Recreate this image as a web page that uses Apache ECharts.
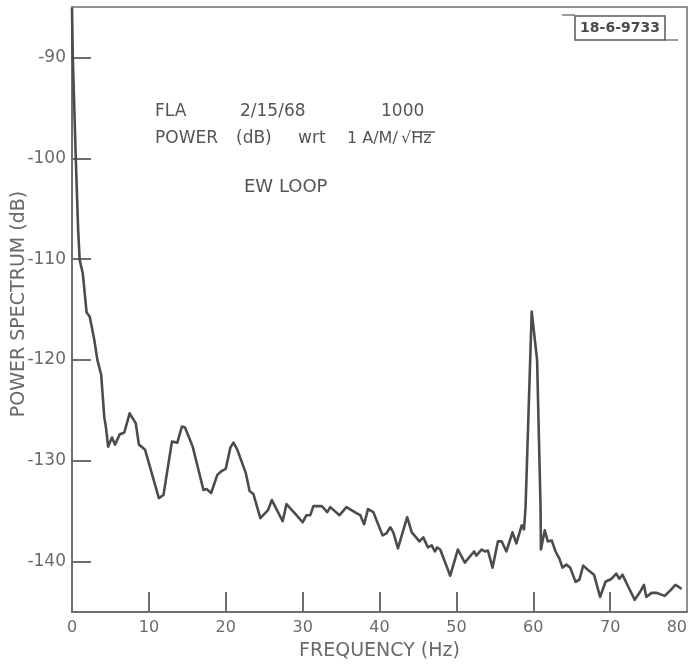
<!DOCTYPE html>
<html>
<head>
<meta charset="utf-8">
<script src="https://cdn.jsdelivr.net/npm/echarts@6/dist/echarts.min.js"></script>
<style>
html,body{margin:0;padding:0;background:#fff;}
#c{width:689px;height:664px;}
</style>
</head>
<body>
<div id="c"></div>
<script>
// Frequency (Hz) of each traced point
var freqs = [0, 0.1, 0.5, 0.8, 1.0, 1.4, 1.9, 2.3, 2.9, 3.3, 3.8, 4.2, 4.4, 4.7, 5.2, 5.6, 6.2, 6.8, 7.5, 8.3, 8.7, 9.2, 9.5,
  11.3, 11.9, 13.0, 13.7, 14.3, 14.7, 15.7, 17.1, 17.5, 18.1, 18.9, 19.5, 20.0, 20.6, 21.0, 21.5, 22.6, 23.1, 23.6,
  24.5, 25.5, 26.0, 27.4, 27.9, 29.2, 30.0, 30.5, 31.0, 31.4, 32.5, 33.2, 33.6, 34.8, 35.7, 37.0, 37.5, 38.0, 38.5,
  39.2, 40.4, 40.9, 41.4, 41.8, 42.4, 43.6, 44.2, 45.2, 45.7, 46.3, 46.8, 47.2, 47.5, 47.9, 49.2, 50.2, 51.1, 52.3,
  52.6, 53.3, 53.7, 54.1, 54.7, 55.4, 55.9, 56.5, 57.3, 57.8, 58.5, 58.8, 59.0, 59.8, 60.5, 60.95, 61.0, 61.5, 61.9,
  62.4, 62.9, 63.4, 63.8, 64.3, 64.8, 65.5, 66.0, 66.5, 67.1, 67.9, 68.7, 68.9, 69.4, 70.2, 70.8, 71.2, 71.6, 72.3,
  73.2, 73.9, 74.4, 74.7, 75.4, 76.0, 77.1, 77.9, 78.5, 79.3];
// Power spectrum (dB) at each frequency
var power = [-85.1, -89.9, -100.2, -107.1, -110.1, -111.4, -115.3, -115.7, -118.0, -120.0, -121.5, -125.7, -126.6, -128.6, -127.7, -128.4, -127.4, -127.2, -125.3, -126.3, -128.4, -128.7, -128.9,
  -133.7, -133.4, -128.1, -128.2, -126.6, -126.7, -128.6, -132.9, -132.8, -133.2, -131.4, -131.0, -130.8, -128.7, -128.2, -128.9, -131.2, -133.0, -133.3,
  -135.7, -134.9, -133.9, -136.0, -134.3, -135.4, -136.1, -135.4, -135.4, -134.5, -134.5, -135.1, -134.6, -135.4, -134.6, -135.2, -135.4, -136.3, -134.8,
  -135.1, -137.4, -137.2, -136.6, -137.1, -138.7, -135.6, -137.1, -138.0, -137.6, -138.6, -138.4, -139.0, -138.6, -138.8, -141.4, -138.8, -140.1, -139.0,
  -139.4, -138.8, -139.0, -138.9, -140.6, -138.0, -138.0, -139.0, -137.1, -138.2, -136.4, -136.8, -134.6, -115.2, -120.0, -134.6, -138.8, -136.9, -138.0,
  -137.9, -139.0, -139.7, -140.6, -140.3, -140.6, -142.0, -141.8, -140.4, -140.8, -141.3, -143.5, -143.6, -142.0, -141.7, -141.2, -141.7, -141.3, -142.4,
  -143.8, -143.0, -142.3, -143.5, -143.1, -143.1, -143.4, -142.8, -142.3, -142.7];
var xTickLabels = [0, 10, 20, 30, 40, 50, 60, 70, 80];
var yTickLabels = [-140, -130, -120, -110, -100, -90];

var seriesData = freqs.map(function (f, i) { return [f, power[i]]; });

var chart = echarts.init(document.getElementById('c'));
var axisGray = '#6e6e6e';
var font = '"DejaVu Sans", "Liberation Sans", sans-serif';
var ann = '17px ' + font;
var annColor = '#555555';
chart.setOption({
  animation: false,
  backgroundColor: '#ffffff',
  grid: {
    left: 72, right: 2, top: 7, bottom: 52,
    outerBoundsMode: 'none', containLabel: false,
    show: true, borderColor: axisGray, borderWidth: 1.5, backgroundColor: 'transparent'
  },
  xAxis: {
    type: 'value', min: 0, max: 80, interval: 10,
    name: 'FREQUENCY (Hz)', nameLocation: 'middle', nameGap: 30, nameMoveOverlap: false,
    nameTextStyle: { color: '#6a6a6a', fontSize: 19, fontFamily: font },
    axisLine: { show: true, onZero: false, lineStyle: { color: axisGray, width: 2 } },
    axisTick: { show: true, inside: true, length: 20, customValues: [10, 20, 30, 40, 50, 60, 70], lineStyle: { color: axisGray, width: 2 } },
    axisLabel: { color: '#6a6a6a', fontSize: 16, fontFamily: font, margin: 8, customValues: xTickLabels, alignMaxLabel: 'right' },
    splitLine: { show: false }
  },
  yAxis: {
    type: 'value', min: -145, max: -85,
    axisLine: { show: true, onZero: false, lineStyle: { color: axisGray, width: 2 } },
    axisTick: { show: true, inside: true, length: 19, customValues: yTickLabels, lineStyle: { color: axisGray, width: 2 } },
    axisLabel: {
      fontSize: 17, fontFamily: font, margin: 6, customValues: yTickLabels,
      color: function (v) { return v === -120 ? '#4f8a55' : '#6a6a6a'; }
    },
    splitLine: { show: false }
  },
  series: [{
    type: 'line', data: seriesData, showSymbol: false, smooth: false,
    lineStyle: { color: '#4c4c4c', width: 2.6, join: 'round' }
  }],
  graphic: [
    { type: 'text', x: 19, y: 304, rotation: Math.PI / 2,
      style: { text: 'POWER SPECTRUM (dB)', font: '19px ' + font, fill: '#6a6a6a', align: 'center', verticalAlign: 'middle' } },
    { type: 'text', left: 155, top: 103, style: { text: 'FLA', font: ann, fill: annColor } },
    { type: 'text', left: 240, top: 103, style: { text: '2/15/68', font: ann, fill: annColor } },
    { type: 'text', left: 381, top: 103, style: { text: '1000', font: ann, fill: annColor } },
    { type: 'text', left: 155, top: 130, style: { text: 'POWER', font: ann, fill: annColor } },
    { type: 'text', left: 236, top: 130, style: { text: '(dB)', font: ann, fill: annColor } },
    { type: 'text', left: 298, top: 130, style: { text: 'wrt', font: ann, fill: annColor } },
    { type: 'text', left: 347, top: 131, style: { text: '1 A/M/', font: '16px ' + font, fill: annColor } },
    { type: 'text', left: 401, top: 131, style: { text: '√Hz', font: '16px ' + font, fill: annColor } },
    { type: 'line', shape: { x1: 412, y1: 132, x2: 435, y2: 132 }, style: { stroke: annColor, lineWidth: 1.5 } },
    { type: 'text', left: 244, top: 178, style: { text: 'EW LOOP', font: '18px ' + font, fill: annColor } },
    { type: 'rect', shape: { x: 575, y: 16, width: 90, height: 24 }, style: { fill: '#fff', stroke: '#5a5a5a', lineWidth: 1.5 } },
    { type: 'line', shape: { x1: 562, y1: 15, x2: 575, y2: 15 }, style: { stroke: '#5a5a5a', lineWidth: 1.2 } },
    { type: 'line', shape: { x1: 665, y1: 40, x2: 678, y2: 40 }, style: { stroke: '#5a5a5a', lineWidth: 1.2 } },
    { type: 'text', x: 620, y: 28, style: { text: '18-6-9733', font: 'bold 14px ' + font, fill: '#4a4a4a', align: 'center', verticalAlign: 'middle' } }
  ]
});
</script>
</body>
</html>
